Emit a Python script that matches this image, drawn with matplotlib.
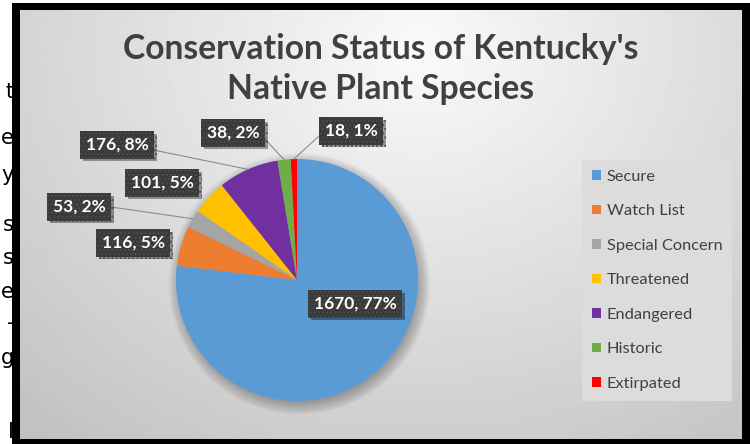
import matplotlib
matplotlib.use('Agg')
import matplotlib.pyplot as plt
import matplotlib.patheffects as pe
from matplotlib.patches import Rectangle, Circle
import numpy as np

plt.rcParams['font.family'] = ['Lato', 'DejaVu Sans']

# data
categories = ['Secure', 'Watch List', 'Special Concern', 'Threatened',
              'Endangered', 'Historic', 'Extirpated']
counts = [1670, 116, 53, 101, 176, 38, 18]
colors = ['#5B9BD5', '#ED7D31', '#A5A5A5', '#FFC000',
          '#7030A0', '#70AD47', '#FF0000']
title = "Conservation Status of Kentucky's\nNative Plant Species"
side_chars = ['t', 'e', 'y', 's', 's', 'e', '-', 'g', 'l']

# layout (figure pixels, y measured from the bottom)
W, H = 750, 444
label_pos = [(355, 140), (133, 201), (79, 237), (162, 261),
             (117, 299), (233, 311), (351, 313)]
has_leader = [False, False, True, False, True, True, True]
leader_rel = [None, None, (1, 0.55), None, (1, 0.25), (1, 0.5), (0, 0.5)]
side_y = [92, 138, 175, 225, 258, 292, 323, 358, 432]

fig = plt.figure(figsize=(W / 100, H / 100), dpi=100, facecolor='white')

# bits of text from the page next to the chart
for ch, yy in zip(side_chars, side_y):
    fig.text(14 / W, 1 - yy / H, ch, fontsize=15, color='black', ha='right',
             va='center', family='DejaVu Sans', zorder=-5)

# black frame
fig.patches.append(Rectangle((12 / W, 0), 738 / W, 441 / H, transform=fig.transFigure,
                             facecolor='black', edgecolor='none', zorder=-4))

# gradient background
bx0, by0, bw, bh = 20, 5, 722, 429
bg = fig.add_axes([bx0 / W, by0 / H, bw / W, bh / H], zorder=-3)
gx, gy = np.meshgrid(np.arange(bw), np.arange(bh))
d = np.sqrt(((gx - 400) / 620.0) ** 2 + ((gy - 40) / 520.0) ** 2)
shade = np.clip(0.98 - 0.23 * d, 0, 1)
bg.imshow(shade, cmap='gray', vmin=0, vmax=1, aspect='auto', interpolation='bilinear')
bg.axis('off')

# pie
cx, cy, r = 297, 444 - 280, 121
ax = fig.add_axes([(cx - r) / W, (cy - r) / H, 2 * r / W, 2 * r / H])
ax.set_facecolor('none')
# soft drop shadow
for i in range(18):
    ax.add_patch(Circle((0.02, -0.03), 0.98 + 0.006 * i, facecolor='black',
                        alpha=0.014, edgecolor='none', zorder=0, clip_on=False))
wedges, _ = ax.pie(counts, colors=colors, startangle=90, counterclock=False,
                   radius=1, wedgeprops=dict(linewidth=0, zorder=2))
ax.set_xlim(-1, 1)
ax.set_ylim(-1, 1)
ax.axis('off')

total = sum(counts)
for i, (w, v) in enumerate(zip(wedges, counts)):
    txt = f'{v}, {round(v / total * 100)}%'
    mid = np.deg2rad((w.theta1 + w.theta2) / 2)
    edge = (np.cos(mid), np.sin(mid))
    kw = {}
    if has_leader[i]:
        kw['arrowprops'] = dict(arrowstyle='-', color='#8c8c8c', lw=0.8,
                                relpos=leader_rel[i], shrinkA=0, shrinkB=0)
    t = ax.annotate(txt, xy=edge, xycoords='data',
                    xytext=label_pos[i], textcoords='figure pixels',
                    ha='center', va='center', fontsize=12.5, fontweight='bold',
                    color='white', zorder=5, annotation_clip=False,
                    bbox=dict(boxstyle='square,pad=0.32', facecolor='#3a3a3a',
                              edgecolor='#4c4c4c', hatch='....', linewidth=0),
                    **kw)
    t.get_bbox_patch().set_path_effects([
        pe.SimplePatchShadow(offset=(2, -2), shadow_rgbFace='black', alpha=0.35),
        pe.Normal()])

# title
fig.text(381 / W, 1 - 69 / H, title, ha='center', va='center', fontsize=24.2,
         fontweight='bold', color='#404040', linespacing=1.28)

# legend
leg = fig.legend(wedges, categories, loc='upper left',
                 bbox_to_anchor=(582 / W, 1 - 160 / H), frameon=True,
                 fontsize=11.8, labelcolor='#404040', handlelength=0.55,
                 handleheight=0.55, handletextpad=0.35, labelspacing=1.25,
                 borderpad=0.6, borderaxespad=0)
leg.get_frame().set_facecolor('#dcdcdc')
leg.get_frame().set_edgecolor('none')
leg.get_frame().set_alpha(1)
leg.get_frame().set_boxstyle('square', pad=0)

fig.savefig('out.png', dpi=100, facecolor='white')
